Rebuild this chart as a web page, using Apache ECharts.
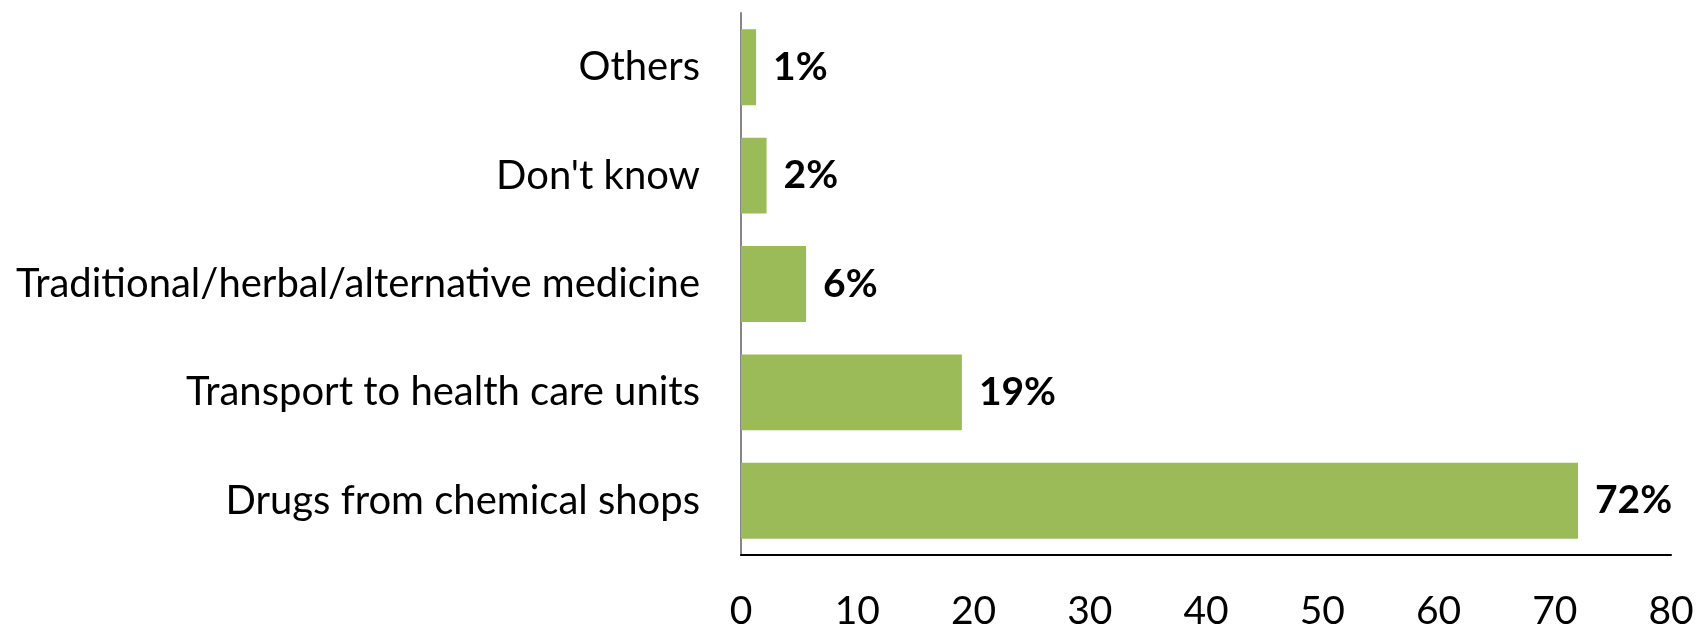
<!DOCTYPE html>
<html><head><meta charset="utf-8">
<script src="https://cdn.jsdelivr.net/npm/echarts@6/dist/echarts.min.js"></script>
<style>html,body{margin:0;padding:0;background:#fff}#c{width:1698px;height:631px}</style>
</head><body><div id="c"></div>
<script>
const categories = ["Drugs from chemical shops","Transport to health care units","Traditional/herbal/alternative medicine","Don't know","Others"];
const values = [72, 19, 5.6, 2.2, 1.3];
const valueLabels = ["72%","19%","6%","2%","1%"];
const xTicks = [0,10,20,30,40,50,60,70,80];
const FONT = "Lato";
const chart = echarts.init(document.getElementById('c'));
chart.setOption({
  animation:false,
  grid:{left:741,right:27,top:13,bottom:73,containLabel:false},
  xAxis:{type:'value',min:xTicks[0],max:xTicks[xTicks.length-1],interval:10,
    splitLine:{show:false},axisTick:{show:false},
    axisLine:{show:true,lineStyle:{color:'#000',width:2}},
    axisLabel:{fontFamily:FONT,fontSize:39,color:'#000',margin:37}},
  yAxis:{type:'category',data:categories,
    axisTick:{show:false},
    axisLine:{show:true,lineStyle:{color:'#868686',width:2}},
    axisLabel:{fontFamily:FONT,fontSize:40,color:'#000',margin:41}},
  series:[{type:'bar',data:values,barCategoryGap:'30%',
    itemStyle:{color:'#9BBB59'},
    label:{show:true,position:'right',distance:17,fontFamily:FONT,fontWeight:'bold',fontSize:39,color:'#000',
      formatter:p=>valueLabels[p.dataIndex]}}]
});
</script></body></html>
